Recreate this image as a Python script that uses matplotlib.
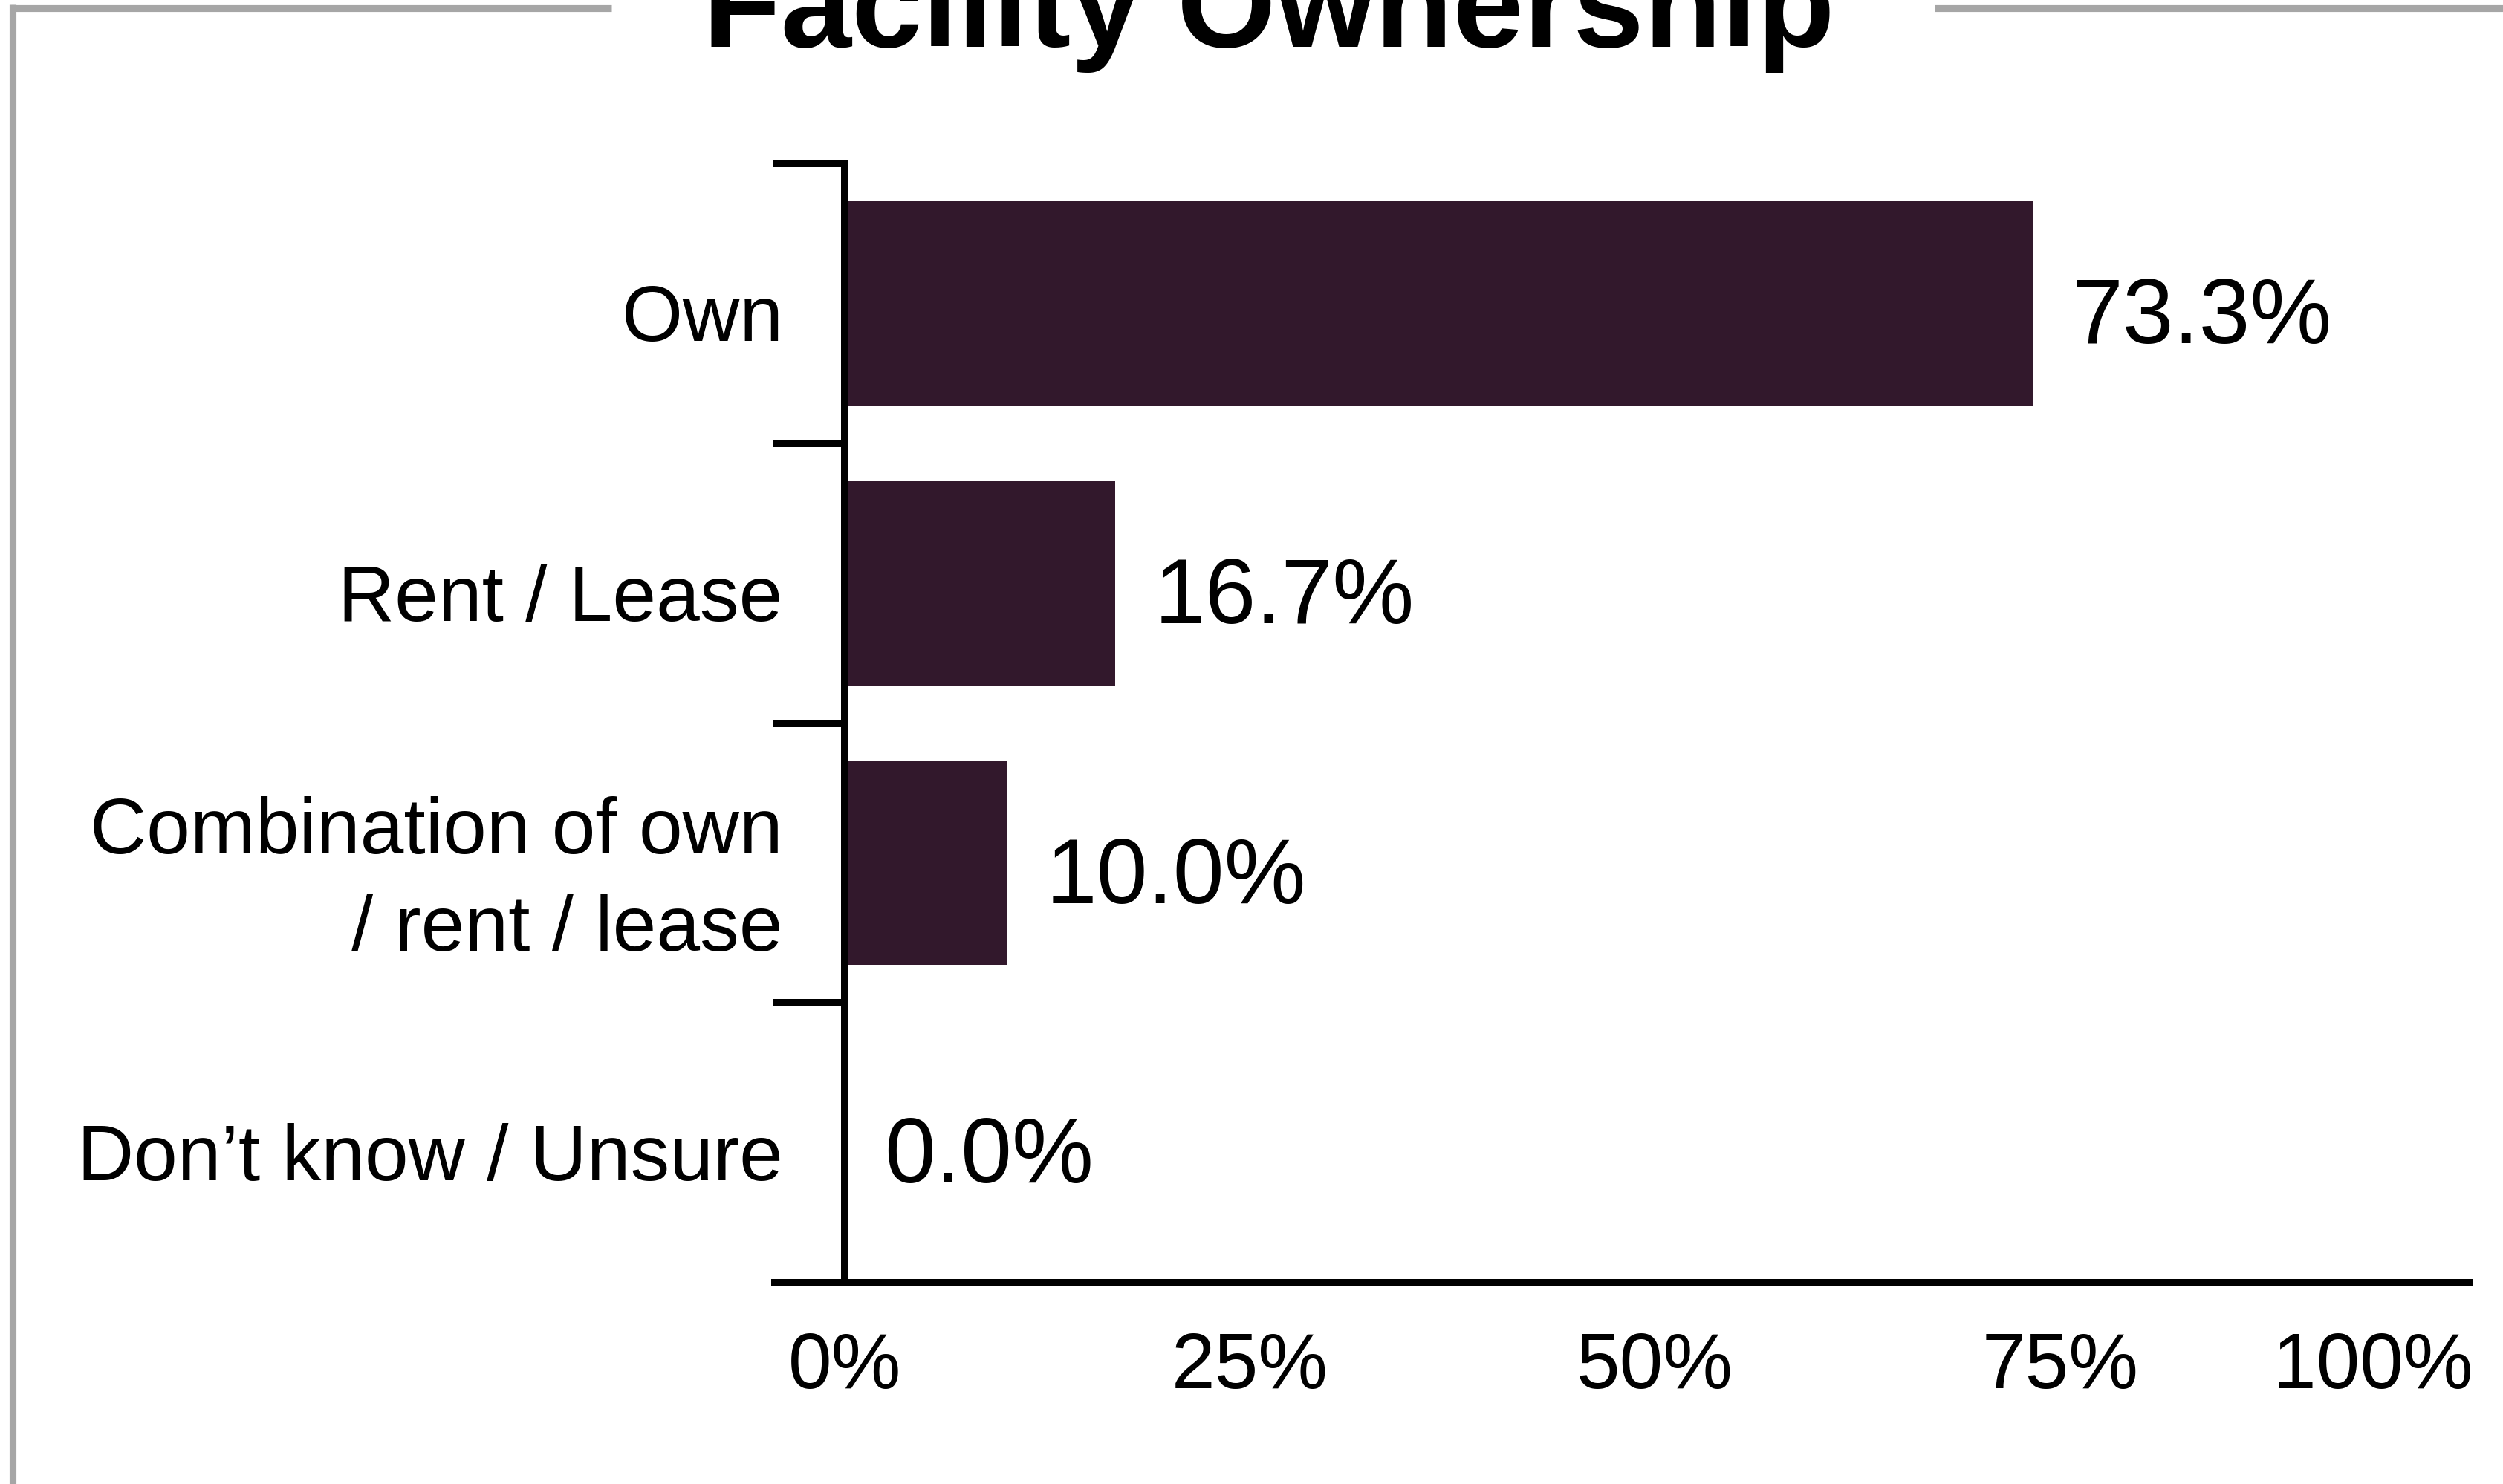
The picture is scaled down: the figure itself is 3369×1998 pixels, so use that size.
import matplotlib
matplotlib.use("Agg")
import matplotlib.pyplot as plt
from matplotlib.lines import Line2D
from matplotlib.transforms import ScaledTranslation

plt.rcParams['font.family'] = ['Liberation Sans', 'DejaVu Sans']

# ---- data ----
title = "Facility Ownership"
categories = ["Own", "Rent / Lease", "Combination of own\n/ rent / lease", "Don\u2019t know / Unsure"]
values = [73.3, 16.7, 10.0, 0.0]
value_labels = ["73.3%", "16.7%", "10.0%", "0.0%"]
xticks = [0, 25, 50, 75, 100]
xtick_labels = ["0%", "25%", "50%", "75%", "100%"]

# ---- style ----
W, H, DPI = 3369, 1999, 200
bar_color = "#32182C"
frame_gray = "#A6A6A6"
lw = 3.6  # pt (~10 px at 200 dpi)

fig = plt.figure(figsize=(W / DPI, H / DPI), dpi=DPI)
fig.patch.set_facecolor("white")

def fx(px):
    return px / W

def fy(py):
    return 1 - py / H

# gray frame (partially visible)
fig.add_artist(Line2D([fx(15), fx(823)], [fy(11.5), fy(11.5)], color=frame_gray, lw=3.3,
                      solid_capstyle="butt", transform=fig.transFigure))
fig.add_artist(Line2D([fx(2604), fx(W)], [fy(11.5), fy(11.5)], color=frame_gray, lw=3.3,
                      solid_capstyle="butt", transform=fig.transFigure))
fig.add_artist(Line2D([fx(16.5), fx(16.5)], [fy(7), fy(H)], color=frame_gray, lw=3.3,
                      solid_capstyle="butt", transform=fig.transFigure))

# title (cut off by top edge, as in the reference)
fig.text(fx(1708), fy(63), title, ha="center", va="baseline", fontsize=61.7,
         fontweight="bold", color="black")

ax_left, ax_right, ax_top, ax_bottom = 1137, 3318, 221, 1728
ax = fig.add_axes([fx(ax_left), fy(ax_bottom), (ax_right - ax_left) / W, (ax_bottom - ax_top) / H])

y = list(range(len(categories)))
ax.barh(y, values, height=0.73, color=bar_color, zorder=2)

ax.set_xlim(0, 100)
ax.set_ylim(len(categories) - 0.5, -0.5)

for yi, v, lab in zip(y, values, value_labels):
    ax.annotate(lab, xy=(v, yi), xytext=(19, -7.5), textcoords="offset points",
                ha="left", va="center", fontsize=44.5, color="black")

# spines
for s in ["top", "right", "bottom"]:
    ax.spines[s].set_visible(False)
ax.spines["left"].set_linewidth(lw)
ax.spines["left"].set_color("black")

# bottom axis line extended left to tick length
span = ax_right - ax_left
ax.add_line(Line2D([-(ax_left - 1038) / span, (3329 - ax_left) / span], [0, 0],
                   transform=ax.transAxes, color="black", lw=lw,
                   solid_capstyle="butt", clip_on=False, zorder=5))

# y ticks at category boundaries, labels as minor ticks
ax.set_yticks([i - 0.5 for i in range(len(categories) + 1)])
ax.set_yticklabels([])
ax.tick_params(axis="y", which="major", length=35, width=lw, direction="out", color="black")
ax.set_yticks(y, minor=True)
ax.set_yticklabels(categories, minor=True, fontsize=38, ha="right", linespacing=1.42)
ax.tick_params(axis="y", which="minor", length=0, pad=30)
for t in ax.get_yticklabels(minor=True):
    dy = 1 if "\n" in t.get_text() else -4
    t.set_transform(t.get_transform() + ScaledTranslation(0, dy / 72, fig.dpi_scale_trans))

ax.set_xticks(xticks)
ax.set_xticklabels(xtick_labels, fontsize=38)
ax.tick_params(axis="x", length=0, pad=23)
xl = ax.get_xticklabels()
xl[-1].set_ha("right")
xl[-1].set_transform(xl[-1].get_transform() + ScaledTranslation(4 / 72, 0, fig.dpi_scale_trans))

fig.savefig("out.png", dpi=DPI, facecolor="white")
